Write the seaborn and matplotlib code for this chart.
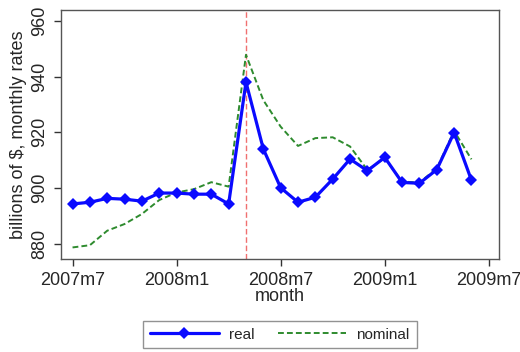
import pandas as pd
import numpy as np
import matplotlib
matplotlib.use("Agg")
import matplotlib.pyplot as plt
import seaborn as sns

# months since 2007m7
month = list(range(24))
real = [894.3, 894.9, 896.3, 896.0, 895.3, 898.2, 898.2, 897.8, 897.8, 894.3,
        938.0, 914.0, 900.1, 894.9, 896.7, 903.2, 910.4, 906.2, 911.0, 902.0,
        901.7, 906.6, 919.9, 902.8]
nominal = [878.7, 879.5, 884.7, 887.1, 890.7, 895.7, 898.4, 899.6, 902.1, 900.5,
           947.8, 931.5, 922.0, 915.1, 917.9, 918.2, 914.9, 906.5, 910.7, 902.3,
           902.0, 907.0, 920.5, 910.3]
tick_pos = [0, 6, 12, 18, 24]
tick_labels = ["2007m7", "2008m1", "2008m7", "2009m1", "2009m7"]
event_month = 10

df = pd.DataFrame({"month": month, "real": real, "nominal": nominal})

sns.set_style("ticks")
plt.rcParams['font.family'] = ['Liberation Sans', 'DejaVu Sans']

fig = plt.figure(figsize=(5.2, 3.52), dpi=100)
ax = fig.add_axes([0.117, 0.263, 0.843, 0.709])

sns.lineplot(data=df, x="month", y="nominal", ax=ax, color="#2e8b2e",
             linestyle=(0, (3, 1.6)), linewidth=1.4, label="nominal", zorder=2)
sns.lineplot(data=df, x="month", y="real", ax=ax, color="#0a0aff",
             marker="D", markersize=6.5, markeredgewidth=0, linewidth=2.3,
             label="real", zorder=3)
ax.axvline(event_month, color="#f07070", linestyle=(0, (4, 2)), linewidth=1, zorder=1)

ax.set_xlim(-0.675, 24.6)
ax.set_ylim(874.4, 963.9)
ax.set_xticks(tick_pos)
ax.set_xticklabels(tick_labels)
ax.set_yticks([880, 900, 920, 940, 960])
for lab in ax.get_yticklabels():
    lab.set_rotation(90)
    lab.set_va("center")
ax.tick_params(axis="both", labelsize=13, length=5, width=1, color="#333333", pad=4)
ax.set_xlabel("month", fontsize=13, labelpad=-1)
ax.set_ylabel("billions of $, monthly rates", fontsize=13, labelpad=3)
for sp in ax.spines.values():
    sp.set_visible(True)
    sp.set_color("#555555")
    sp.set_linewidth(1)

handles, labels = ax.get_legend_handles_labels()
order = [labels.index("real"), labels.index("nominal")]
ax.get_legend().remove()
leg = fig.legend([handles[i] for i in order], [labels[i] for i in order],
                 loc="upper center", bbox_to_anchor=(0.538, 0.089), ncol=2,
                 frameon=True, fancybox=False, fontsize=11, handlelength=4.5,
                 handletextpad=0.65, columnspacing=1.55, borderpad=0.45,
                 borderaxespad=0)
leg.get_frame().set_edgecolor("#777777")
leg.get_frame().set_linewidth(1)

fig.savefig("out.png", dpi=100)
